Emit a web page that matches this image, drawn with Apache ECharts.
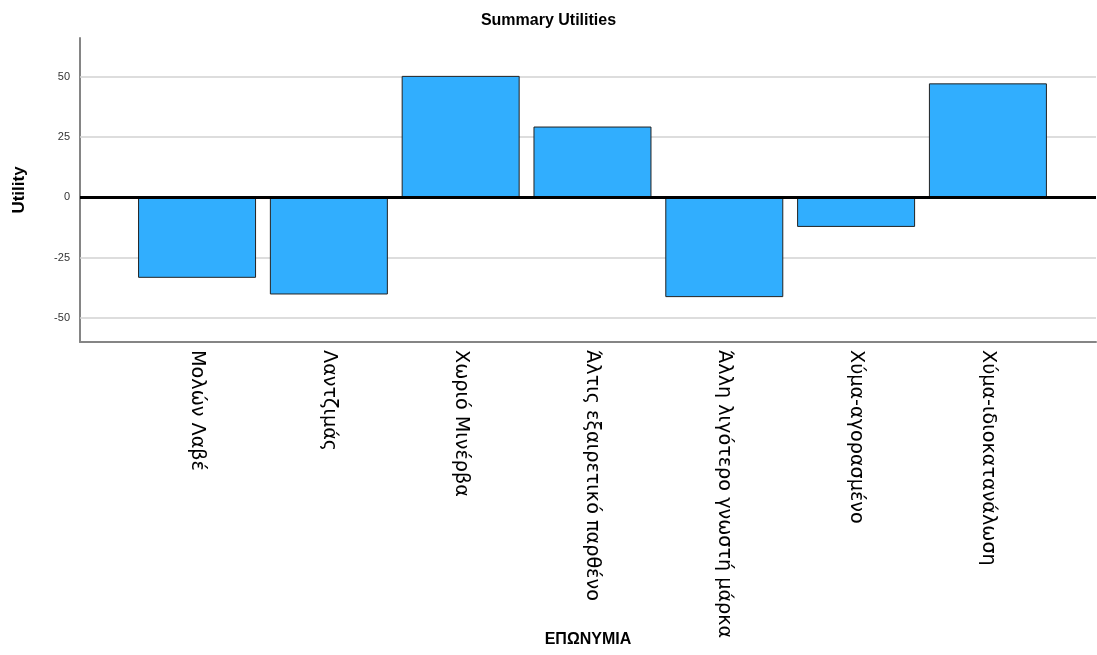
<!DOCTYPE html>
<html>
<head>
<meta charset="utf-8">
<script src="https://cdn.jsdelivr.net/npm/echarts@6/dist/echarts.min.js"></script>
<style>html,body{margin:0;padding:0;background:#fff}#c{width:1097px;height:655px}</style>
</head>
<body>
<div id="c"></div>
<script>
const categories = ["Μολών Λαβέ", "Λαντζιμάς", "Χωριό Μινέρβα", "Άλτις εξαιρετικό παρθένο", "Άλλη λιγότερο γνωστή μάρκα", "Χύμα-αγορασμένο", "Χύμα-ιδιοκατανάλωση"];
const utilities = [-33.4, -40.3, 50.3, 29.3, -41.4, -12.3, 47.2];
const yTicks = [-50, -25, 0, 25, 50];
const gridValues = [-50, -25, 25, 50];

const positions = categories.map((c, i) => i + 1);
const chart = echarts.init(document.getElementById('c'), null, {renderer: 'canvas'});
chart.setOption({
  animation: false,
  backgroundColor: '#fff',
  title: {
    text: 'Summary Utilities', left: 'center', top: 8,
    textStyle: {fontFamily: 'Liberation Sans', fontWeight: 'bold', fontSize: 16, color: '#000'}
  },
  grid: {left: 80, right: 1, top: 38, bottom: 313, containLabel: false, outerBoundsMode: 'none'},
  xAxis: {
    type: 'value', min: 0.112, max: 7.82,
    name: 'ΕΠΩΝΥΜΙΑ', nameLocation: 'middle', nameGap: 290, nameMoveOverlap: false,
    nameTextStyle: {fontFamily: 'Liberation Sans', fontWeight: 'bold', fontSize: 16, color: '#000'},
    axisLine: {show: true, onZero: false, lineStyle: {color: '#858585', width: 2}},
    axisTick: {show: false},
    splitLine: {show: false},
    axisLabel: {
      customValues: positions, rotate: -90, margin: 8,
      fontFamily: 'DejaVu Sans', fontSize: 19.2, color: '#000',
      formatter: v => categories[Math.round(v) - 1] || ''
    }
  },
  yAxis: {
    type: 'value', min: -60, max: 66,
    name: 'Utility', nameLocation: 'middle', nameGap: 52, nameRotate: 90,
    nameTextStyle: {fontFamily: 'Liberation Sans', fontWeight: 'bold', fontSize: 17, color: '#000'},
    axisLine: {show: true, onZero: false, lineStyle: {color: '#858585', width: 2}},
    axisTick: {show: false},
    splitLine: {show: false},
    axisLabel: {customValues: yTicks, margin: 10, fontFamily: 'Liberation Sans', fontSize: 11, color: '#333'}
  },
  series: [
    {
      type: 'line', data: [], z: 1,
      markLine: {
        silent: true, symbol: 'none', z: 1, animation: false,
        label: {show: false},
        lineStyle: {color: '#d2d2d2', width: 1.5, type: 'solid'},
        data: gridValues.map(v => ({yAxis: v}))
      }
    },
    {
      type: 'bar', z: 2, barWidth: 118,
      data: utilities.map((v, i) => [positions[i], v]),
      itemStyle: {color: '#31aefe', borderColor: '#222', borderWidth: 1},
      markLine: {
        silent: true, symbol: 'none', z: 6, animation: false,
        label: {show: false},
        lineStyle: {color: '#000', width: 3, type: 'solid'},
        data: [{yAxis: 0}]
      }
    }
  ]
});
</script>
</body>
</html>
